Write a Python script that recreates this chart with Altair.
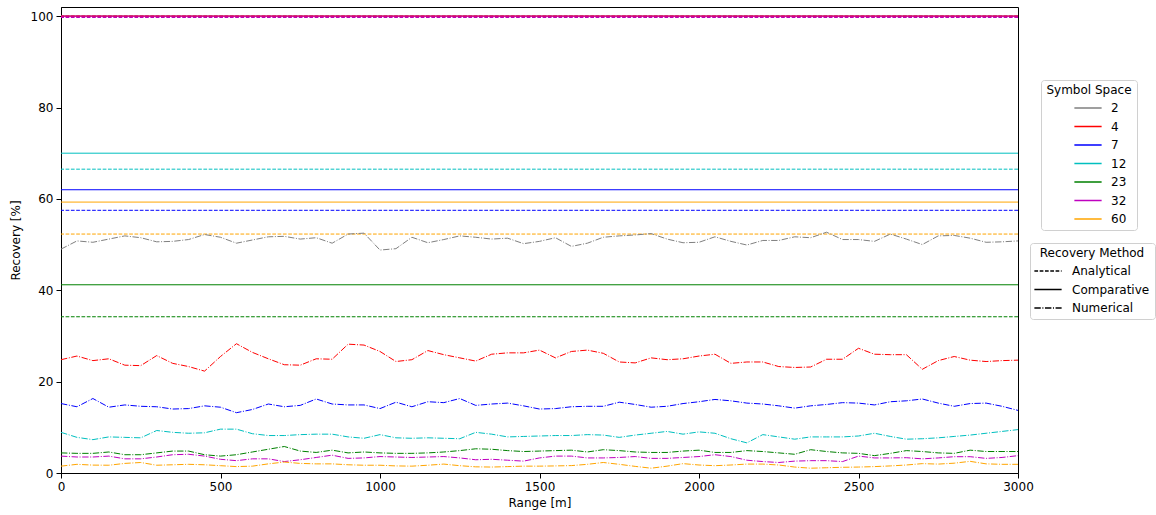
import altair as alt
import pandas as pd

# Sample positions along the range axis [m]
range_m = list(range(0, 3001, 50))

symbol_spaces = ["2", "4", "7", "12", "23", "32", "60"]
line_colors = ["gray", "red", "blue", "#00bfbf", "green", "#bf00bf", "orange"]
methods = ["Analytical", "Comparative", "Numerical"]

# Constant recovery levels [%] per symbol space
analytical = [100.0, 100.0, 57.5, 66.5, 34.2, 99.7, 52.3]
comparative = [100.0, 100.0, 62.0, 70.0, 41.2, 100.0, 59.3]

# Numerical recovery [%] sampled every 50 m
num_2 = [49.0, 50.8, 50.5, 51.2, 51.9, 51.5, 50.6, 50.7, 51.1, 52.2,
         51.6, 50.3, 51.0, 51.7, 51.8, 51.2, 51.5, 50.3, 52.3, 52.5,
         48.8, 49.1, 51.6, 50.4, 51.1, 51.9, 51.6, 51.2, 51.4, 50.2,
         50.7, 51.5, 49.6, 50.3, 51.6, 51.9, 52.1, 52.4, 51.2, 50.4,
         50.5, 51.7, 50.7, 49.9, 50.9, 50.9, 51.7, 51.5, 52.7, 51.1,
         51.1, 50.7, 52.3, 51.2, 50.0, 51.9, 52.0, 51.4, 50.5, 50.6,
         50.8]
num_4 = [24.8, 25.6, 24.6, 25.0, 23.6, 23.5, 25.7, 24.0, 23.3, 22.3,
         25.5, 28.3, 26.4, 25.0, 23.7, 23.6, 25.0, 24.9, 28.2, 28.0,
         26.6, 24.4, 24.8, 26.8, 25.9, 25.2, 24.5, 26.0, 26.3, 26.3,
         26.9, 25.2, 26.6, 26.9, 26.2, 24.3, 24.1, 25.2, 24.8, 25.0,
         25.6, 26.0, 24.0, 24.3, 24.3, 23.3, 23.1, 23.2, 24.9, 24.9,
         27.3, 26.0, 25.9, 25.9, 22.7, 24.6, 25.5, 24.7, 24.4, 24.6,
         24.7]
num_7 = [15.2, 14.5, 16.3, 14.4, 14.9, 14.6, 14.5, 14.0, 14.1, 14.7,
         14.4, 13.2, 13.9, 15.1, 14.5, 14.8, 16.2, 15.1, 14.9, 14.9,
         14.1, 15.5, 14.5, 15.6, 15.4, 16.3, 14.8, 15.1, 15.3, 14.7,
         14.0, 14.1, 14.5, 14.6, 14.6, 15.5, 15.0, 14.4, 14.6, 15.2,
         15.6, 16.1, 15.8, 15.3, 15.1, 14.7, 14.2, 14.7, 15.0, 15.4,
         15.3, 14.9, 15.6, 15.8, 16.2, 15.3, 14.6, 15.2, 15.3, 14.6,
         13.7]
num_12 = [8.9, 7.8, 7.3, 7.9, 7.8, 7.7, 9.3, 8.9, 8.7, 8.8,
          9.6, 9.6, 8.6, 8.2, 8.2, 8.4, 8.5, 8.5, 7.9, 7.6,
          8.4, 7.7, 7.6, 7.7, 7.6, 7.5, 8.9, 8.5, 7.9, 8.0,
          8.1, 8.2, 8.2, 8.4, 8.3, 7.8, 8.3, 8.7, 9.1, 8.5,
          9.0, 8.7, 7.5, 6.6, 8.4, 7.9, 7.4, 7.9, 7.9, 7.9,
          8.1, 8.7, 8.0, 7.4, 7.5, 7.7, 8.0, 8.3, 8.7, 9.1,
          9.5]
num_23 = [4.4, 4.3, 4.3, 4.6, 4.0, 4.0, 4.4, 4.8, 4.8, 4.0,
          3.7, 4.0, 4.6, 5.2, 5.8, 4.8, 4.5, 5.0, 4.4, 4.6,
          4.4, 4.3, 4.3, 4.4, 4.6, 4.9, 5.3, 5.2, 4.9, 4.7,
          4.8, 4.9, 5.0, 4.6, 5.1, 4.9, 4.6, 4.5, 4.5, 4.8,
          5.0, 4.5, 4.5, 4.9, 4.7, 4.4, 4.1, 5.1, 4.7, 4.4,
          4.3, 3.8, 4.3, 4.9, 4.7, 4.4, 4.3, 5.0, 4.7, 4.7,
          4.7]
num_32 = [3.7, 3.5, 3.5, 3.7, 3.1, 3.1, 3.5, 4.0, 4.1, 3.7,
          3.0, 2.7, 3.1, 3.1, 2.5, 2.9, 3.4, 3.9, 3.2, 3.3,
          3.6, 3.5, 3.4, 3.5, 3.6, 3.3, 2.9, 3.0, 2.8, 2.6,
          3.3, 3.7, 3.7, 3.3, 3.3, 3.4, 3.6, 3.2, 3.2, 3.4,
          3.6, 4.0, 3.6, 2.8, 2.5, 2.3, 2.6, 2.7, 2.7, 2.5,
          3.7, 3.3, 3.3, 3.35, 3.1, 3.3, 3.57, 3.57, 3.2, 3.4,
          3.8]
num_60 = [1.5, 1.9, 1.73, 1.7, 2.1, 2.3, 1.7, 1.8, 1.9, 1.8,
          1.6, 1.4, 1.5, 2.0, 2.4, 2.1, 2.0, 2.0, 1.8, 1.7,
          1.7, 1.55, 1.5, 1.7, 1.95, 1.6, 1.35, 1.3, 1.4, 1.5,
          1.5, 1.55, 1.62, 1.9, 2.3, 1.9, 1.45, 1.05, 1.5, 2.05,
          1.75, 1.6, 1.75, 1.95, 1.95, 1.75, 1.3, 1.05, 1.15, 1.25,
          1.3, 1.4, 1.55, 1.75, 2.05, 1.95, 2.15, 2.55, 2.0, 1.9,
          1.9]

numerical = [num_2, num_4, num_7, num_12, num_23, num_32, num_60]

# Long tables for the two layers
rule_rows = []
for s, a, c in zip(symbol_spaces, analytical, comparative):
    rule_rows.append({"space": s, "method": "Analytical", "value": a})
    rule_rows.append({"space": s, "method": "Comparative", "value": c})
rules_df = pd.DataFrame(rule_rows)

line_rows = []
for s, series in zip(symbol_spaces, numerical):
    for x, v in zip(range_m, series):
        line_rows.append({"space": s, "method": "Numerical", "range": x, "value": v})
lines_df = pd.DataFrame(line_rows)

FONT = "DejaVu Sans"
# a horizontal stroke wider than the unit symbol box, so legend rows stay compact
LONG_STROKE = "M-1.5,0L1.5,0"

color_scale = alt.Scale(domain=symbol_spaces, range=line_colors)
dash_scale = alt.Scale(domain=methods, range=[[3.7, 1.6], [1, 0], [6.4, 1.6, 1, 1.6]])

legend_common = dict(
    orient="none",
    symbolType=LONG_STROKE,
    symbolStrokeWidth=1.5,
    symbolSize=330,
    fillColor="white",
    strokeColor="#d0d0d0",
    cornerRadius=3,
    padding=5,
    labelFont=FONT,
    labelFontSize=12,
    labelColor="black",
    titleFont=FONT,
    titleFontSize=12,
    titleFontWeight="normal",
    titleColor="black",
    titleAnchor="middle",
    titlePadding=1,
    rowPadding=2.5,
)

color_legend = alt.Legend(title="Symbol Space", legendX=980, legendY=73,
                          symbolOffset=26, labelOffset=13, symbolDash=[1, 0],
                          **legend_common)
dash_legend = alt.Legend(title="Recovery Method", legendX=969, legendY=236,
                         symbolOffset=3, labelOffset=14, symbolStrokeColor="black",
                         **legend_common)

x_axis = alt.Axis(values=[0, 500, 1000, 1500, 2000, 2500, 3000], title="Range [m]",
                  format="d", grid=False, tickSize=5, labelPadding=3, titlePadding=5,
                  labelFlush=False)
y_axis = alt.Axis(values=[0, 20, 40, 60, 80, 100], title="Recovery [%]", format="d",
                  grid=False, tickSize=5, labelPadding=3, titlePadding=8)

color_enc = alt.Color("space:N", scale=color_scale, legend=color_legend, sort=symbol_spaces)
dash_enc = alt.StrokeDash("method:N", scale=dash_scale, legend=dash_legend)
y_scale = alt.Scale(domain=[0, 102], nice=False, zero=False)

rules = alt.Chart(rules_df).mark_rule(strokeWidth=1).encode(
    y=alt.Y("value:Q", scale=y_scale, axis=y_axis),
    color=color_enc,
    strokeDash=dash_enc,
)

lines = alt.Chart(lines_df).mark_line(strokeWidth=1).encode(
    x=alt.X("range:Q", scale=alt.Scale(domain=[0, 3000], nice=False), axis=x_axis),
    y=alt.Y("value:Q", scale=y_scale, axis=y_axis),
    color=color_enc,
    strokeDash=dash_enc,
    detail="space:N",
)

chart = alt.layer(rules, lines).properties(
    width=957,
    height=466,
    autosize=alt.AutoSizeParams(type="none"),
    padding={"left": 61, "top": 7, "right": 138, "bottom": 42},
    background="white",
).configure_view(
    stroke="black", strokeWidth=1
).configure_axis(
    domainColor="black", tickColor="black", labelColor="black", titleColor="black",
    labelFont=FONT, titleFont=FONT, labelFontSize=12, titleFontSize=12,
    titleFontWeight="normal", domainWidth=1, tickWidth=1,
)

chart.save("out.html", embed_options={"renderer": "svg", "actions": False})
